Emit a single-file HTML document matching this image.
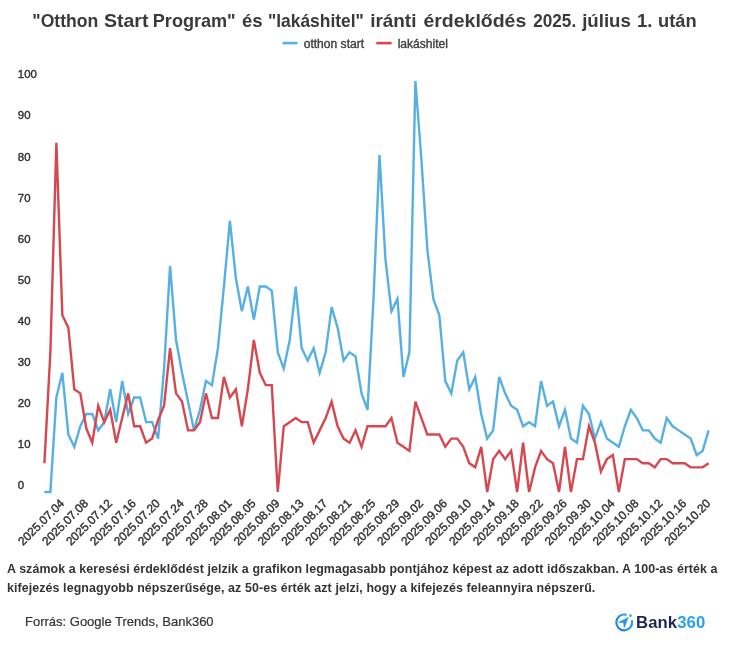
<!DOCTYPE html>
<html><head><meta charset="utf-8"><title>chart</title>
<style>
html,body{margin:0;padding:0;background:#fff;}
body{width:730px;height:647px;position:relative;overflow:hidden;font-family:"Liberation Sans",sans-serif;color:#333;}
.title{position:absolute;left:0;top:9px;width:730px;text-align:center;font-weight:bold;font-size:18.55px;line-height:24px;color:#3a3a3a;white-space:nowrap;}
.title span{display:inline-block;transform-origin:50% 50%;}
.leg{position:absolute;top:36px;font-size:12px;line-height:14px;color:#3a3a3a;white-space:nowrap;-webkit-text-stroke:0.3px #3a3a3a;}
.dash{position:absolute;height:2.6px;width:15px;top:41.9px;}
.note{position:absolute;left:7px;top:559.5px;font-weight:bold;font-size:12.4px;letter-spacing:0.1px;line-height:19.3px;color:#333;white-space:nowrap;}
.src{position:absolute;left:25px;top:613px;font-size:13px;line-height:18px;color:#333;white-space:nowrap;-webkit-text-stroke:0.2px #333;}
svg{position:absolute;left:0;top:0;}
svg,.title,.leg,.note,.src,.logo{will-change:transform;}
svg text.lt{font-size:12px;fill:#3a3a3a;stroke:#3a3a3a;stroke-width:0.35px;}
#yl text{font-size:11.4px;}
svg text.tw{font-size:18.55px;font-weight:bold;fill:#3a3a3a;stroke:none;}
svg text{font-family:"Liberation Sans",sans-serif;font-size:11.85px;fill:#333;stroke:#333;stroke-width:0.42px;}
.logo{position:absolute;left:636.2px;top:612.8px;font-weight:bold;font-size:16.7px;line-height:20px;white-space:nowrap;letter-spacing:0.1px;}
</style></head><body>

<svg width="730" height="647" viewBox="0 0 730 647">
<g id="tt"><text class="tw" x="32.30" y="27.25" textLength="65.90" lengthAdjust="spacingAndGlyphs">"Otthon</text><text class="tw" x="103.90" y="27.25" textLength="44.60" lengthAdjust="spacingAndGlyphs">Start</text><text class="tw" x="152.80" y="27.25" textLength="82.90" lengthAdjust="spacingAndGlyphs">Program"</text><text class="tw" x="252.35" y="27.25" text-anchor="middle">és</text><text class="tw" x="268.00" y="27.25" textLength="95.80" lengthAdjust="spacingAndGlyphs">"lakáshitel"</text><text class="tw" x="370.20" y="27.25" textLength="46.20" lengthAdjust="spacingAndGlyphs">iránti</text><text class="tw" x="423.40" y="27.25" textLength="102.90" lengthAdjust="spacingAndGlyphs">érdeklődés</text><text class="tw" x="533.20" y="27.25" textLength="43.00" lengthAdjust="spacingAndGlyphs">2025.</text><text class="tw" x="582.20" y="27.25" textLength="48.60" lengthAdjust="spacingAndGlyphs">július</text><text class="tw" x="644.75" y="27.25" text-anchor="middle">1.</text><text class="tw" x="658.10" y="27.25" textLength="38.60" lengthAdjust="spacingAndGlyphs">után</text></g>
<g id="lg">
<line x1="282.5" y1="43.1" x2="297.4" y2="43.1" stroke="#57b0e3" stroke-width="2.6"/>
<line x1="376.3" y1="43.1" x2="391.6" y2="43.1" stroke="#d6474f" stroke-width="2.6"/>
<text class="lt" x="303.7" y="47.7" textLength="60.4" lengthAdjust="spacingAndGlyphs">otthon start</text>
<text class="lt" x="397.7" y="47.7" textLength="50.3" lengthAdjust="spacingAndGlyphs">lakáshitel</text>
</g>
<g id="yl"><text x="17.8" y="489.25">0</text><text x="17.8" y="448.16">10</text><text x="17.8" y="407.07">20</text><text x="17.8" y="365.98">30</text><text x="17.8" y="324.89">40</text><text x="17.8" y="283.80">50</text><text x="17.8" y="242.71">60</text><text x="17.8" y="201.62">70</text><text x="17.8" y="160.53">80</text><text x="17.8" y="119.44">90</text><text x="17.8" y="78.35">100</text></g>
<g id="xl"><text transform="translate(64.97,504.2) rotate(-45)" text-anchor="end">2025.07.04</text><text transform="translate(88.90,504.2) rotate(-45)" text-anchor="end">2025.07.08</text><text transform="translate(112.84,504.2) rotate(-45)" text-anchor="end">2025.07.12</text><text transform="translate(136.77,504.2) rotate(-45)" text-anchor="end">2025.07.16</text><text transform="translate(160.71,504.2) rotate(-45)" text-anchor="end">2025.07.20</text><text transform="translate(184.64,504.2) rotate(-45)" text-anchor="end">2025.07.24</text><text transform="translate(208.58,504.2) rotate(-45)" text-anchor="end">2025.07.28</text><text transform="translate(232.51,504.2) rotate(-45)" text-anchor="end">2025.08.01</text><text transform="translate(256.45,504.2) rotate(-45)" text-anchor="end">2025.08.05</text><text transform="translate(280.38,504.2) rotate(-45)" text-anchor="end">2025.08.09</text><text transform="translate(304.32,504.2) rotate(-45)" text-anchor="end">2025.08.13</text><text transform="translate(328.25,504.2) rotate(-45)" text-anchor="end">2025.08.17</text><text transform="translate(352.19,504.2) rotate(-45)" text-anchor="end">2025.08.21</text><text transform="translate(376.12,504.2) rotate(-45)" text-anchor="end">2025.08.25</text><text transform="translate(400.06,504.2) rotate(-45)" text-anchor="end">2025.08.29</text><text transform="translate(423.99,504.2) rotate(-45)" text-anchor="end">2025.09.02</text><text transform="translate(447.93,504.2) rotate(-45)" text-anchor="end">2025.09.06</text><text transform="translate(471.86,504.2) rotate(-45)" text-anchor="end">2025.09.10</text><text transform="translate(495.80,504.2) rotate(-45)" text-anchor="end">2025.09.14</text><text transform="translate(519.74,504.2) rotate(-45)" text-anchor="end">2025.09.18</text><text transform="translate(543.67,504.2) rotate(-45)" text-anchor="end">2025.09.22</text><text transform="translate(567.61,504.2) rotate(-45)" text-anchor="end">2025.09.26</text><text transform="translate(591.54,504.2) rotate(-45)" text-anchor="end">2025.09.30</text><text transform="translate(615.48,504.2) rotate(-45)" text-anchor="end">2025.10.04</text><text transform="translate(639.41,504.2) rotate(-45)" text-anchor="end">2025.10.08</text><text transform="translate(663.35,504.2) rotate(-45)" text-anchor="end">2025.10.12</text><text transform="translate(687.28,504.2) rotate(-45)" text-anchor="end">2025.10.16</text><text transform="translate(711.22,504.2) rotate(-45)" text-anchor="end">2025.10.20</text></g>
<path id="pb" d="M44.40,492.00 L50.38,492.00 L56.37,397.49 L62.35,372.84 L68.34,434.47 L74.32,446.80 L80.30,426.26 L86.29,413.93 L92.27,413.93 L98.25,430.37 L104.24,422.15 L110.22,389.27 L116.21,422.15 L122.19,381.06 L128.17,413.93 L134.16,397.49 L140.14,397.49 L146.12,422.15 L152.11,422.15 L158.09,438.58 L164.08,368.73 L170.06,266.00 L176.04,339.97 L182.03,372.84 L188.01,401.60 L193.99,430.37 L199.98,409.82 L205.96,381.06 L211.95,385.17 L217.93,348.19 L223.91,286.55 L229.90,220.81 L235.88,278.33 L241.86,311.20 L247.85,286.55 L253.83,319.42 L259.82,286.55 L265.80,286.55 L271.78,290.66 L277.77,352.29 L283.75,368.73 L289.74,339.97 L295.72,286.55 L301.70,348.19 L307.69,360.51 L313.67,348.19 L319.65,372.84 L325.64,352.29 L331.62,307.10 L337.61,327.64 L343.59,360.51 L349.57,352.29 L355.56,356.40 L361.54,393.38 L367.52,409.82 L373.51,298.88 L379.49,155.06 L385.48,259.84 L391.46,311.20 L397.44,298.88 L403.43,376.95 L409.41,352.29 L415.39,81.10 L421.38,159.17 L427.36,249.57 L433.35,298.88 L439.33,315.31 L445.31,381.06 L451.30,393.38 L457.28,360.51 L463.26,352.29 L469.25,389.27 L475.23,376.95 L481.22,413.93 L487.20,438.58 L493.18,430.37 L499.17,376.95 L505.15,393.38 L511.14,405.71 L517.12,409.82 L523.10,426.26 L529.09,422.15 L535.07,426.26 L541.05,381.06 L547.04,405.71 L553.02,401.60 L559.01,426.26 L564.99,409.82 L570.97,438.58 L576.96,442.69 L582.94,405.71 L588.92,413.93 L594.91,438.58 L600.89,422.15 L606.88,438.58 L612.86,442.69 L618.84,446.80 L624.83,426.26 L630.81,409.82 L636.79,418.04 L642.78,430.37 L648.76,430.37 L654.75,438.58 L660.73,442.69 L666.71,418.04 L672.70,426.26 L678.68,430.37 L684.66,434.47 L690.65,438.58 L696.63,455.02 L702.62,450.91 L708.60,430.37" fill="none" stroke="#57b0e3" stroke-width="2.4" stroke-linejoin="miter" stroke-miterlimit="4"/>
<path id="pr" d="M44.40,463.24 L50.38,352.29 L56.37,142.74 L62.35,315.31 L68.34,327.64 L74.32,389.27 L80.30,393.38 L86.29,428.31 L92.27,442.69 L98.25,405.71 L104.24,422.15 L110.22,409.82 L116.21,442.69 L122.19,418.04 L128.17,393.38 L134.16,426.26 L140.14,426.26 L146.12,442.69 L152.11,438.58 L158.09,420.09 L164.08,405.71 L170.06,348.19 L176.04,393.38 L182.03,401.60 L188.01,430.37 L193.99,430.37 L199.98,422.15 L205.96,393.38 L211.95,418.04 L217.93,418.04 L223.91,376.95 L229.90,397.49 L235.88,389.27 L241.86,426.26 L247.85,389.27 L253.83,339.97 L259.82,372.84 L265.80,385.17 L271.78,385.17 L277.77,492.00 L283.75,426.26 L289.74,422.15 L295.72,418.04 L301.70,422.15 L307.69,422.15 L313.67,442.69 L319.65,430.37 L325.64,418.04 L331.62,401.60 L337.61,426.26 L343.59,438.58 L349.57,442.69 L355.56,430.37 L361.54,446.80 L367.52,426.26 L373.51,426.26 L379.49,426.26 L385.48,426.26 L391.46,418.04 L397.44,442.69 L403.43,446.80 L409.41,450.91 L415.39,401.60 L421.38,418.04 L427.36,434.47 L433.35,434.47 L439.33,434.47 L445.31,446.80 L451.30,438.58 L457.28,438.58 L463.26,446.80 L469.25,463.24 L475.23,467.35 L481.22,446.80 L487.20,492.00 L493.18,459.13 L499.17,450.91 L505.15,459.13 L511.14,450.91 L517.12,492.00 L523.10,442.69 L529.09,492.00 L535.07,467.35 L541.05,450.91 L547.04,459.13 L553.02,463.24 L559.01,492.00 L564.99,446.80 L570.97,492.00 L576.96,459.13 L582.94,459.13 L588.92,426.26 L594.91,442.69 L600.89,471.45 L606.88,459.13 L612.86,455.02 L618.84,492.00 L624.83,459.13 L630.81,459.13 L636.79,459.13 L642.78,463.24 L648.76,463.24 L654.75,467.35 L660.73,459.13 L666.71,459.13 L672.70,463.24 L678.68,463.24 L684.66,463.24 L690.65,467.35 L696.63,467.35 L702.62,467.35 L708.60,463.24" fill="none" stroke="#d6474f" stroke-width="2.4" stroke-linejoin="miter" stroke-miterlimit="4"/>
<g id="logo">
<defs><linearGradient id="lgr" x1="0" y1="1" x2="1" y2="0"><stop offset="0" stop-color="#1f7ae0"/><stop offset="1" stop-color="#2aa7f0"/></linearGradient></defs>
<path d="M625.71,614.65 A7.9,7.9 0 1 0 632.0,621.16" fill="none" stroke="url(#lgr)" stroke-width="2.2" stroke-linecap="round"/>
<circle cx="630.5" cy="615.7" r="1.35" fill="#2aa9f0"/>
<path d="M628.4,617.2 L618.7,622.4 L623.6,622.6 L624.2,627.7 Z" fill="url(#lgr)" stroke="url(#lgr)" stroke-width="0.6" stroke-linejoin="round"/>
</g>
</svg>
<div class="note"><span id="n1">A számok a keresési érdeklődést jelzik a grafikon legmagasabb pontjához képest az adott időszakban. A 100-as érték a</span><br><span id="n2">kifejezés legnagyobb népszerűsége, az 50-es érték azt jelzi, hogy a kifejezés feleannyira népszerű.</span></div>
<div class="src" id="src">Forrás: Google Trends, Bank360</div>
<div class="logo"><span id="lg1" style="color:#1f2555">Bank</span><span id="lg2" style="color:#27a0ea">360</span></div>
</body></html>
